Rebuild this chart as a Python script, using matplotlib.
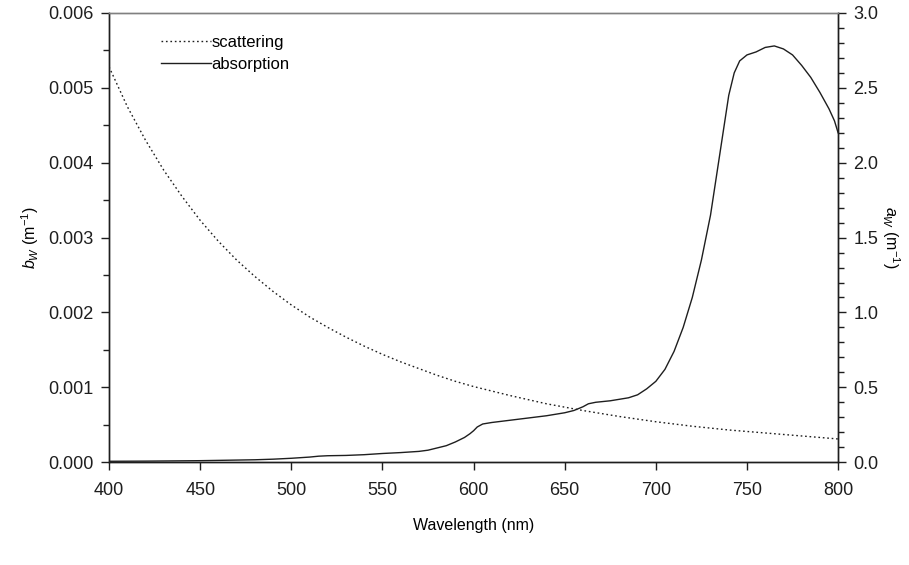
import matplotlib
matplotlib.use("Agg")
import matplotlib.pyplot as plt
from matplotlib.ticker import MultipleLocator, FormatStrFormatter

plt.rcParams['font.family'] = ['Liberation Sans', 'DejaVu Sans']
plt.rcParams['mathtext.fontset'] = 'custom'
plt.rcParams['mathtext.it'] = 'Liberation Sans:italic'
plt.rcParams['mathtext.rm'] = 'Liberation Sans'

# scattering coefficient b_w (m^-1), left axis
scat_wl = [400, 410, 420, 430, 440, 450, 460, 470, 480, 490, 500, 510, 520, 530, 540, 550,
           560, 570, 580, 590, 600, 620, 640, 660, 680, 700, 720, 740, 760, 780, 800]
scat_val = [0.00528, 0.00475, 0.00430, 0.00390, 0.00355, 0.00323, 0.00295, 0.00270, 0.00248,
            0.00228, 0.00210, 0.00194, 0.00180, 0.00167, 0.00155, 0.00144, 0.00134, 0.00125,
            0.00116, 0.00108, 0.00101, 0.00089, 0.00078, 0.00069, 0.00061, 0.00054, 0.00048,
            0.00043, 0.00039, 0.00035, 0.00031]

# absorption coefficient a_w (m^-1), right axis
abs_wl = [400, 410, 420, 430, 440, 450, 460, 470, 480, 490, 500, 510, 515, 520, 530, 540,
          550, 560, 570, 575, 580, 585, 590, 595, 598, 600, 602, 605, 610, 620, 630, 640,
          650, 655, 660, 663, 667, 675, 685, 690, 695, 700, 705, 710, 715, 720, 725, 730,
          735, 740, 743, 746, 750, 755, 760, 765, 770, 775, 780, 785, 790, 795, 798, 800]
abs_val = [0.006, 0.0065, 0.007, 0.008, 0.009, 0.010, 0.012, 0.014, 0.016, 0.020, 0.026,
           0.034, 0.040, 0.043, 0.045, 0.050, 0.058, 0.064, 0.072, 0.080, 0.095, 0.110,
           0.135, 0.165, 0.190, 0.210, 0.235, 0.255, 0.265, 0.280, 0.295, 0.310, 0.330,
           0.345, 0.370, 0.390, 0.400, 0.410, 0.430, 0.450, 0.490, 0.540, 0.620, 0.740,
           0.900, 1.100, 1.350, 1.650, 2.050, 2.450, 2.600, 2.680, 2.720, 2.740, 2.770,
           2.780, 2.760, 2.720, 2.650, 2.570, 2.470, 2.360, 2.280, 2.200]

fig = plt.figure(figsize=(9.09, 5.65), dpi=100)
ax = fig.add_axes([0.12, 0.182, 0.802, 0.795])
ax2 = ax.twinx()

lc = '#1e1e1e'
l1, = ax.plot(scat_wl, scat_val, linestyle=(0, (1.2, 2.0)), color=lc, lw=1.0, label='scattering')
l2, = ax2.plot(abs_wl, abs_val, linestyle='-', color=lc, lw=1.0, label='absorption')

ax.set_xlim(400, 800)
ax.set_ylim(0, 0.006)
ax2.set_ylim(0, 3.0)

ax.xaxis.set_major_locator(MultipleLocator(50))
ax.yaxis.set_major_locator(MultipleLocator(0.001))
ax.yaxis.set_minor_locator(MultipleLocator(0.0005))
ax.yaxis.set_major_formatter(FormatStrFormatter('%.3f'))
ax2.yaxis.set_major_locator(MultipleLocator(0.5))
ax2.yaxis.set_minor_locator(MultipleLocator(0.1))
ax2.yaxis.set_major_formatter(FormatStrFormatter('%.1f'))

for a in (ax, ax2):
    a.tick_params(which='major', direction='out', length=6, width=1.0, labelsize=13,
                  colors='#1e1e1e', pad=5)
    a.tick_params(which='minor', direction='out', length=4, width=1.0, colors='#1e1e1e')
    for s in a.spines.values():
        s.set_linewidth(1.0)
        s.set_color('#1e1e1e')
ax.tick_params(axis='x', pad=8)
ax.spines['top'].set_color('#808080')
ax2.spines['top'].set_color('#808080')

ax.set_xlabel('Wavelength (nm)', fontsize=11.5, labelpad=14)
ax.set_ylabel(r'$b_W$ (m$^{-1}$)', fontsize=11.5)
ax2.set_ylabel(r'$a_W$ (m$^{-1}$)', fontsize=11.5, rotation=270, labelpad=17)
ax.yaxis.set_label_coords(-0.094, 0.5)

leg = ax.legend(handles=[l1, l2], loc='upper left', bbox_to_anchor=(0.05, 0.985),
                frameon=False, fontsize=12, handlelength=3.0, handletextpad=0.05,
                labelspacing=0.45)

fig.savefig('out.png', dpi=100)
